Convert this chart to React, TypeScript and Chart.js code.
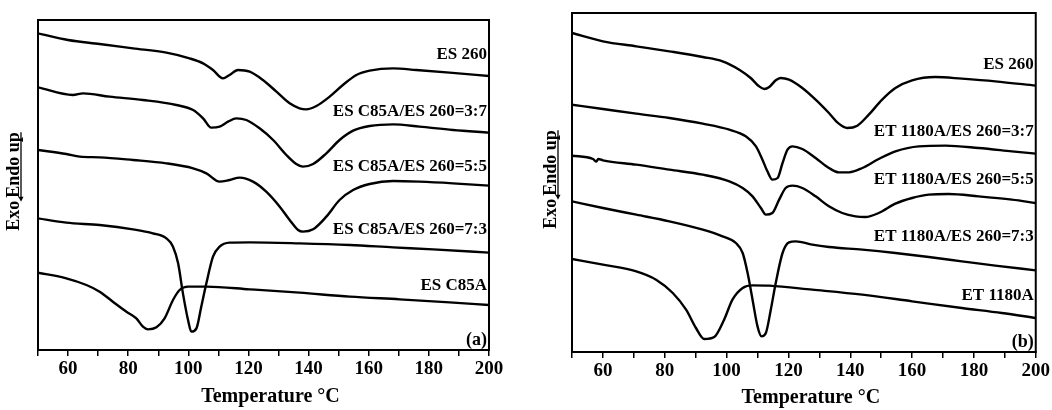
import React, { useEffect, useRef } from 'react';
import { Chart, registerables } from 'chart.js';

Chart.register(...registerables);

const FONT = '"Liberation Serif", "Times New Roman", serif';

// x-axis tick labels (°C)
const tickLabels = [60, 80, 100, 120, 140, 160, 180, 200];
const xTitle = 'Temperature °C';

// ---------- Panel (a) : [temperature °C, heat flow (a.u.)] ----------
const namesA = ['ES 260', 'ES C85A/ES 260=3:7', 'ES C85A/ES 260=5:5', 'ES C85A/ES 260=7:3', 'ES C85A'];

const a_ES260: number[][] = [
  [50, 95.0], [60, 93.0], [70.5, 91.8], [81.6, 90.5], [92.7, 89.2], [100.4, 87.5], [104.9, 86.0],
  [108.2, 84.0], [111.5, 81.5], [113.7, 82.5], [116.5, 84.0], [120.4, 83.5], [124.8, 81.0],
  [129.3, 77.5], [133.7, 74.0], [137.0, 72.5], [139.2, 72.2], [142.6, 73.2], [147.0, 76.0],
  [151.4, 79.5], [155.9, 82.5], [160.3, 83.8], [168.1, 84.5], [175.8, 84.0], [186.9, 83.2], [200, 82.2],
];
const a_37: number[][] = [
  [50, 78.8], [61.6, 76.5], [65.0, 77.0], [73.8, 76.0], [84.9, 75.0], [96.0, 73.5], [101.6, 72.0],
  [104.9, 69.5], [107.6, 66.7], [110.4, 67.0], [113.2, 68.5], [116.0, 69.5], [119.3, 69.0],
  [123.7, 66.5], [128.2, 63.0], [132.6, 58.5], [135.9, 55.8], [138.1, 55.0], [141.5, 55.8],
  [145.9, 59.0], [150.3, 63.0], [154.8, 65.8], [160.3, 67.2], [168.1, 67.7], [176.9, 67.0], [188.0, 66.0], [200, 65.2],
];
const a_55: number[][] = [
  [50, 60.0], [59.4, 58.8], [63.9, 58.0], [70.5, 57.8], [81.6, 57.0], [92.7, 56.0], [101.6, 54.5],
  [106.0, 53.0], [110.4, 50.5], [113.7, 51.0], [117.1, 51.7], [121.5, 50.5], [125.9, 47.5],
  [130.4, 43.0], [133.7, 39.0], [136.5, 36.0], [138.1, 35.5], [141.5, 36.2], [145.9, 40.0],
  [150.3, 45.0], [154.8, 48.0], [160.3, 49.8], [168.1, 50.7], [176.9, 50.5], [188.0, 50.0], [200, 49.3],
];
const a_73: number[][] = [
  [50, 39.5], [59.4, 38.2], [70.5, 37.5], [81.6, 36.2], [88.2, 35.0], [92.7, 33.5], [94.9, 31.0],
  [96.6, 26.0], [98.2, 17.0], [99.9, 9.0], [101.0, 5.5], [102.7, 6.5], [104.3, 13.0], [106.0, 20.0],
  [108.2, 28.0], [110.4, 31.0], [113.7, 32.2], [120.4, 32.3], [137.0, 32.0], [153.7, 31.5],
  [168.1, 30.8], [181.4, 30.2], [200, 29.2],
];
const a_C85A: number[][] = [
  [50, 23.2], [59.4, 21.5], [66.1, 19.5], [70.5, 17.5], [74.9, 14.5], [79.4, 11.5], [82.7, 9.5],
  [84.9, 7.0], [86.6, 6.2], [89.4, 6.8], [92.1, 9.5], [94.9, 15.0], [97.1, 18.0], [99.9, 19.0],
  [106.0, 19.0], [120.4, 18.2], [137.0, 17.2], [153.7, 16.0], [170.3, 15.2], [186.9, 14.3], [200, 13.5],
];

// ---------- Panel (b) ----------
const namesB = ['ES 260', 'ET 1180A/ES 260=3:7', 'ET 1180A/ES 260=5:5', 'ET 1180A/ES 260=7:3', 'ET 1180A'];

const b_ES260: number[][] = [
  [50, 95.7], [60, 93.2], [70.8, 91.7], [81.5, 90.2], [92.3, 88.5], [98.7, 87.2], [104.1, 84.7],
  [107.8, 82.2], [110.5, 79.7], [112.2, 78.9], [113.8, 79.5], [115.9, 81.5], [117.5, 82.2],
  [120.2, 81.7], [124.5, 79.2], [128.8, 75.7], [133.1, 71.7], [136.3, 68.5], [139.0, 67.2],
  [142.3, 67.9], [146.0, 71.2], [150.3, 75.7], [154.6, 79.2], [160.0, 81.5], [167.5, 82.5],
  [176.1, 82.0], [186.9, 81.2], [200, 79.9],
];
const b_37: number[][] = [
  [50, 74.2], [60, 72.9], [70.8, 71.5], [81.5, 70.2], [92.3, 68.5], [100.9, 66.7], [106.2, 64.7],
  [109.5, 61.7], [111.6, 57.7], [113.2, 54.2], [114.8, 51.7], [116.5, 52.2], [118.1, 56.7],
  [119.7, 60.7], [121.3, 61.7], [124.5, 60.9], [128.8, 58.2], [133.1, 55.2], [136.3, 53.9],
  [139.6, 53.9], [143.9, 55.2], [149.2, 57.9], [154.6, 60.2], [162.2, 61.7], [170.8, 61.9],
  [181.5, 61.2], [192.3, 60.2], [200, 59.5],
];
const b_55: number[][] = [
  [50, 58.9], [56.8, 57.9], [57.8, 57.1], [58.5, 57.9], [60, 57.5], [70.8, 56.2], [81.5, 54.7],
  [92.3, 53.2], [100.9, 51.2], [105.2, 49.2], [108.4, 46.7], [111.1, 43.2], [112.7, 41.2],
  [114.8, 41.7], [117.0, 45.7], [119.1, 49.2], [121.3, 49.9], [124.5, 49.2], [128.8, 46.7],
  [133.1, 43.7], [137.4, 41.7], [141.7, 40.7], [144.9, 40.5], [149.2, 41.7], [154.6, 44.5],
  [160.0, 46.2], [165.4, 47.2], [171.8, 47.4], [181.5, 46.7], [192.3, 45.7], [200, 44.7],
];
const b_73: number[][] = [
  [50, 45.2], [60, 43.2], [70.8, 41.2], [81.5, 39.2], [92.3, 36.7], [98.7, 34.7], [103.0, 32.7],
  [105.2, 29.7], [106.8, 23.7], [108.4, 15.7], [110.0, 7.7], [111.3, 4.7], [112.7, 5.7],
  [114.3, 12.7], [115.9, 20.7], [118.1, 29.7], [120.2, 32.9], [122.4, 33.2], [127.7, 32.2],
  [133.1, 31.5], [143.9, 30.7], [154.6, 29.7], [165.4, 28.5], [176.1, 27.2], [186.9, 25.9], [200, 24.5],
];
const b_1180A: number[][] = [
  [50, 27.9], [60, 26.2], [70.8, 24.2], [77.2, 21.7], [82.6, 17.7], [86.9, 12.7], [90.1, 7.2],
  [92.8, 3.9], [96.0, 4.5], [99.2, 9.7], [101.9, 15.7], [105.2, 19.2], [108.4, 20.0], [113.8, 19.9],
  [127.7, 18.7], [143.9, 17.2], [160.0, 15.2], [176.1, 13.2], [189.0, 11.7], [200, 10.2],
];

const seriesA = [a_ES260, a_37, a_55, a_73, a_C85A];
const seriesB = [b_ES260, b_37, b_55, b_73, b_1180A];

const decorPlugin = {
  id: 'decor',
  afterDraw(chart: any, _args: any, opts: any) {
    const { ctx, chartArea: ca, scales } = chart;
    ctx.save();
    ctx.strokeStyle = '#000';
    ctx.fillStyle = '#000';
    ctx.lineWidth = 2;
    ctx.strokeRect(ca.left, ca.top, ca.right - ca.left, ca.bottom - ca.top);

    // curve labels
    ctx.font = `bold 17px ${FONT}`;
    ctx.textAlign = 'right';
    ctx.textBaseline = 'middle';
    opts.names.forEach((n: string, i: number) => {
      const d = chart.data.datasets[i].data;
      const last = d[d.length - 1];
      const y = scales.y.getPixelForValue(last.y) - opts.offsets[i];
      ctx.fillText(n, ca.right - 2, y);
    });

    // panel tag
    ctx.font = `bold 18px ${FONT}`;
    ctx.textBaseline = 'bottom';
    ctx.fillText(opts.tag, ca.right - 2, ca.bottom - 1);

    // x title
    ctx.font = `bold 20px ${FONT}`;
    ctx.textAlign = 'center';
    ctx.textBaseline = 'middle';
    ctx.fillText(xTitle, (ca.left + ca.right) / 2 + 7, opts.xTitleY);

    // y title: Exo  Endo up (underlined, arrow)
    ctx.translate(opts.yTitleX, (ca.top + ca.bottom) / 2 + opts.yTitleDy);
    ctx.rotate(-Math.PI / 2);
    ctx.font = `bold 18px ${FONT}`;
    const exo = 'Exo';
    const endo = 'Endo up';
    const wExo = ctx.measureText(exo).width;
    const wEndo = ctx.measureText(endo).width;
    const gap = 3;
    const x0 = -(wExo + gap + wEndo) / 2;
    ctx.textAlign = 'left';
    ctx.textBaseline = 'alphabetic';
    ctx.fillText(exo, x0, 6);
    ctx.fillText(endo, x0 + wExo + gap, 6);
    const ulY = 8;
    ctx.lineWidth = 1.3;
    ctx.beginPath();
    ctx.moveTo(x0 + wExo + gap + wEndo, ulY);
    ctx.lineTo(x0 + wExo + 1, ulY);
    ctx.stroke();
    ctx.beginPath();
    ctx.moveTo(x0 + wExo - 1, ulY);
    ctx.lineTo(x0 + wExo + 4, ulY - 2.5);
    ctx.lineTo(x0 + wExo + 4, ulY + 2.5);
    ctx.closePath();
    ctx.fill();
    ctx.restore();
  },
};

type PanelProps = {
  series: number[][][];
  names: string[];
  offsets: number[];
  tag: string;
  width: number;
  left: number;
  padTop: number;
  padRight: number;
  xAxisH: number;
  yAxisW: number;
  yMax: number;
  yTitleX: number;
  yTitleDy: number;
  xTitleY: number;
};

function Panel(p: PanelProps) {
  const ref = useRef<HTMLCanvasElement>(null);
  useEffect(() => {
    if (!ref.current) return;
    const chart = new Chart(ref.current, {
      type: 'line',
      data: {
        datasets: p.series.map((s, i) => ({
          label: p.names[i],
          data: s.map(([x, y]) => ({ x, y })),
          borderColor: '#000',
          borderWidth: 2.4,
          pointRadius: 0,
          fill: false,
          cubicInterpolationMode: 'monotone' as const,
        })),
      },
      options: {
        responsive: false,
        animation: false,
        devicePixelRatio: 1,
        layout: { padding: { left: 0, right: p.padRight, top: p.padTop, bottom: 0 } },
        plugins: {
          legend: { display: false },
          tooltip: { enabled: false },
          decor: {
            names: p.names, offsets: p.offsets, tag: p.tag,
            yTitleX: p.yTitleX, yTitleDy: p.yTitleDy, xTitleY: p.xTitleY,
          },
        } as any,
        scales: {
          x: {
            type: 'linear',
            min: 50,
            max: 200,
            afterFit: (s: any) => { s.height = p.xAxisH; },
            ticks: {
              stepSize: 10,
              autoSkip: false,
              maxRotation: 0,
              padding: 2,
              color: '#000',
              font: { family: FONT, size: 19, weight: 'bold' },
              callback: (v: any) => (tickLabels.includes(Number(v)) ? String(v) : ''),
            },
            grid: { display: true, drawOnChartArea: false, drawTicks: true, tickLength: 6, color: '#000', lineWidth: 1.5 },
            border: { display: true, color: '#000', width: 2 },
            title: { display: false },
          },
          y: {
            type: 'linear',
            min: 0,
            max: p.yMax,
            afterFit: (s: any) => { s.width = p.yAxisW; },
            ticks: { display: false },
            grid: { display: false, drawTicks: false },
            border: { display: false },
          },
        },
      } as any,
      plugins: [decorPlugin as any],
    });
    return () => chart.destroy();
  }, []);
  return (
    <canvas
      ref={ref}
      width={p.width}
      height={410}
      style={{ position: 'absolute', left: p.left, top: 0, width: p.width, height: 410 }}
    />
  );
}

export default function App() {
  useEffect(() => {
    document.body.style.margin = '0';
  }, []);
  return (
    <div style={{ position: 'fixed', left: 0, top: 0, width: 1052, height: 410, background: '#fff', overflow: 'hidden' }}>
      <Panel
        series={seriesA}
        names={namesA}
        offsets={[21, 21, 19, 23, 19]}
        tag="(a)"
        width={520}
        left={0}
        padTop={20}
        padRight={31}
        xAxisH={60}
        yAxisW={38}
        yMax={99}
        yTitleX={13}
        yTitleDy={-3.5}
        xTitleY={397}
      />
      <Panel
        series={seriesB}
        names={namesB}
        offsets={[21, 22, 23, 34, 22]}
        tag="(b)"
        width={522}
        left={530}
        padTop={13}
        padRight={15}
        xAxisH={58}
        yAxisW={42}
        yMax={101.7}
        yTitleX={20}
        yTitleDy={-3}
        xTitleY={398}
      />
    </div>
  );
}
